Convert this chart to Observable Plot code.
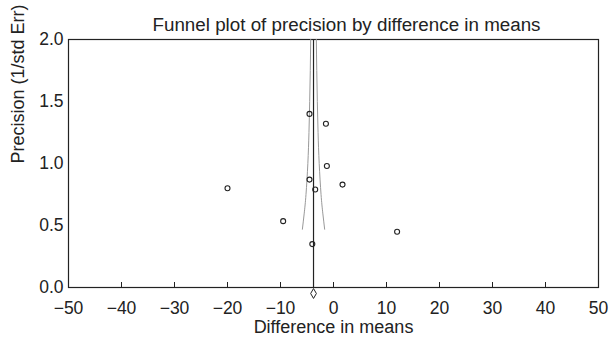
<!DOCTYPE html>
<html><head><meta charset="utf-8">
<script src="https://cdn.jsdelivr.net/npm/d3@7"></script>
<script src="https://cdn.jsdelivr.net/npm/@observablehq/plot@0.6"></script>
<style>body{margin:0;background:#fff;font-family:"Liberation Sans",Arial,sans-serif;}</style>
</head><body><div id="chart"></div>
<script>
const diffs = [-4.53, -1.43, -1.25, -4.53, 1.7, -3.45, -20.0, -9.5, 12.0, -4.0];
const precisions = [1.40, 1.32, 0.98, 0.87, 0.83, 0.79, 0.80, 0.535, 0.45, 0.35];
const combinedDiff = -3.77;
const funnelPrec = [0.47, 0.6, 0.75, 1.0, 1.25, 1.5, 1.75, 2.0];
const funnelLeft = [-5.87, -5.52, -5.19, -4.84, -4.63, -4.49, -4.38, -4.30];
const funnelRight = [-1.67, -2.02, -2.35, -2.70, -2.91, -3.05, -3.16, -3.24];
const xTicks = [-50, -40, -30, -20, -10, 0, 10, 20, 30, 40, 50];
const yTicks = [0, 0.5, 1.0, 1.5, 2.0];
const title = "Funnel plot of precision by difference in means";
const xLabel = "Difference in means";
const yLabel = "Precision (1/std Err)";

const pts = diffs.map((d, i) => ({x: d, y: precisions[i]}));
const left = funnelPrec.map((p, i) => ({x: funnelLeft[i], y: p}));
const right = funnelPrec.map((p, i) => ({x: funnelRight[i], y: p}));

const chart = Plot.plot({
  width: 609, height: 339,
  marginLeft: 68, marginRight: 11, marginTop: 39, marginBottom: 52,
  style: {fontFamily: "'Liberation Sans', Arial, sans-serif", fontSize: "17.5px", color: "#222", background: "#fff"},
  x: {domain: [-50, 50]},
  y: {domain: [0, 2]},
  marks: [
    Plot.frame({stroke: "#222", strokeWidth: 1.2}),
    Plot.tickX(xTicks, {x: d => d, insetTop: 243, stroke: "#222", strokeWidth: 1}),
    Plot.axisX({ticks: xTicks, tickSize: 0, tickPadding: 14, label: null, fontSize: 17.5}),
    Plot.axisY({ticks: yTicks, tickSize: 0, tickPadding: 5, tickFormat: d3.format(".1f"), label: null, fontSize: 17.5}),
    Plot.line(left, {x: "x", y: "y", curve: "natural", stroke: "#999", strokeWidth: 1}),
    Plot.line(right, {x: "x", y: "y", curve: "natural", stroke: "#999", strokeWidth: 1}),
    Plot.ruleX([combinedDiff], {y1: 0, y2: 2, stroke: "#222", strokeWidth: 1.2}),
    Plot.dot(pts, {x: "x", y: "y", r: 2.5, stroke: "#222", fill: "none", strokeWidth: 1.1}),
    Plot.dot([combinedDiff], {x: d => d, y: 0, dy: 6, symbol: "diamond", r: 3, stroke: "#222", fill: "white", strokeWidth: 1}),
    Plot.text([title], {frameAnchor: "top", dy: -22, dx: 13, text: d => d, fontSize: 18.8, fill: "#222"}),
    Plot.text([xLabel], {frameAnchor: "bottom", dy: 45, text: d => d, fontSize: 18, fill: "#222"}),
    Plot.text([yLabel], {frameAnchor: "left", dx: -50, rotate: -90, text: d => d, fontSize: 18, fill: "#222"})
  ]
});
document.getElementById("chart").appendChild(chart);
</script></body></html>
